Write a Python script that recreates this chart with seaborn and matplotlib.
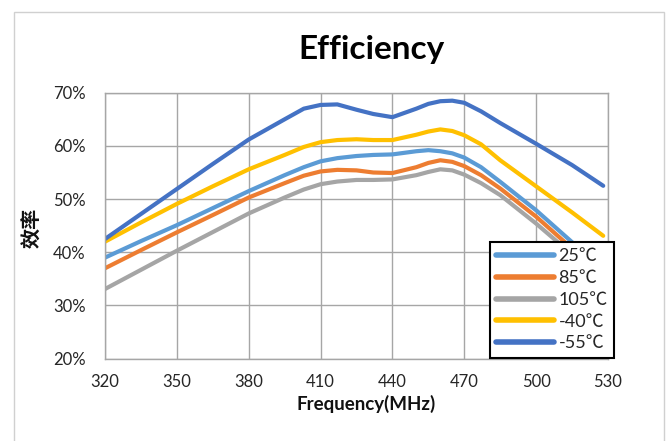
import pandas as pd
import numpy as np
import matplotlib.pyplot as plt
import seaborn as sns
from matplotlib.patches import Rectangle

# Data (efficiency in %)
freq = [320, 335, 350, 365, 380, 395, 403, 410, 417, 425, 432, 440, 450, 455, 460, 465, 470, 477, 485, 500, 515, 528]
eff_25 = [39.0, 42.1, 45.1, 48.3, 51.5, 54.5, 56.0, 57.1, 57.7, 58.1, 58.3, 58.4, 59.0, 59.2, 59.0, 58.6, 57.8, 56.0, 53.25, 47.9, 41.9, 36.7]
eff_85 = [37.0, 40.4, 43.75, 47.0, 50.3, 53.0, 54.4, 55.2, 55.5, 55.4, 55.0, 54.9, 56.0, 56.8, 57.3, 57.0, 56.2, 54.5, 52.0, 46.7, 40.7, 35.5]
eff_105 = [33.1, 36.7, 40.3, 43.8, 47.3, 50.3, 51.8, 52.8, 53.3, 53.6, 53.6, 53.7, 54.5, 55.1, 55.6, 55.4, 54.6, 53.0, 50.75, 45.4, 39.6, 34.5]
eff_m40 = [42.0, 45.6, 49.1, 52.4, 55.6, 58.3, 59.8, 60.7, 61.1, 61.25, 61.1, 61.1, 62.1, 62.7, 63.1, 62.8, 62.0, 60.3, 57.3, 52.4, 47.5, 43.1]
eff_m55 = [42.5, 47.2, 51.9, 56.6, 61.2, 65.0, 67.0, 67.7, 67.8, 66.8, 66.0, 65.4, 67.0, 67.9, 68.4, 68.5, 68.1, 66.5, 64.3, 60.4, 56.4, 52.5]

temps = ['25℃', '85℃', '105℃', '-40℃', '-55℃']
colors = ['#5B9BD5', '#ED7D31', '#A5A5A5', '#FFC000', '#4472C4']
x_ticks = [320, 350, 380, 410, 440, 470, 500, 530]
y_ticks = [20, 30, 40, 50, 60, 70]
y_tick_labels = ['20%', '30%', '40%', '50%', '60%', '70%']

series = [eff_25, eff_85, eff_105, eff_m40, eff_m55]
df = pd.concat([pd.DataFrame({'freq': freq, 'eff': s, 'temp': t}) for s, t in zip(series, temps)])

sns.set_theme(style='white')
plt.rcParams['font.family'] = ['Lato', 'Noto Sans CJK SC', 'DejaVu Sans']

fig = plt.figure(figsize=(6.68, 4.41), dpi=100)
ax = fig.add_axes([105 / 668, 1 - 358.7 / 441, 503 / 668, 266 / 441])

sns.lineplot(data=df, x='freq', y='eff', hue='temp', hue_order=temps,
             palette=dict(zip(temps, colors)), linewidth=3, ax=ax, sort=False)

ax.set_xlim(320, 530)
ax.set_ylim(20, 70)
ax.set_xticks(x_ticks)
ax.set_yticks(y_ticks)
ax.set_yticklabels(y_tick_labels)
ax.grid(True, color='#a6a6a6', linewidth=1)
ax.set_axisbelow(True)
for sp in ax.spines.values():
    sp.set_color('#a6a6a6')
    sp.set_linewidth(1)
ax.tick_params(axis='both', direction='out', length=4, width=1, color='#a6a6a6',
               labelsize=12, labelcolor='#262626')
ax.tick_params(axis='y', pad=10)
ax.tick_params(axis='x', pad=7)

ax.set_xlabel('Frequency(MHz)', fontsize=13.5, fontweight='bold', color='#111111')
ax.xaxis.set_label_coords((366 - 105) / 503, -0.135)
ax.set_ylabel('效率', fontsize=14.5, fontweight='bold', color='#111111')
ax.yaxis.set_label_coords(-0.125, 0.49)

fig.text(372 / 668, 1 - 50 / 441, 'Efficiency', ha='center', va='center',
         fontsize=24, fontweight='bold', color='#000000')

handles, labels = ax.get_legend_handles_labels()
leg = ax.legend(handles, labels, loc='upper left', bbox_to_anchor=(490 / 668, 1 - 242 / 441),
                bbox_transform=fig.transFigure, borderaxespad=0, fontsize=13,
                handlelength=3.2, handletextpad=0.25, labelspacing=0.32, borderpad=0.35,
                fancybox=False, framealpha=1, edgecolor='black')
leg.get_frame().set_linewidth(1.5)
for line in leg.get_lines():
    line.set_linewidth(4)

# outer chart border
fig.patches.append(Rectangle((14 / 668, -0.02), 650 / 668, 1 - 12 / 441 + 0.02,
                             transform=fig.transFigure, fill=False,
                             edgecolor='#d0d0d0', linewidth=1))

fig.savefig('out.png', dpi=100)
